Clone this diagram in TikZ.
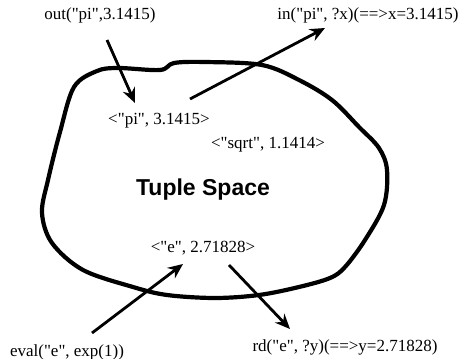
\documentclass[tikz,border=0pt]{standalone}
\usepackage{fontspec}
\setmainfont{Liberation Serif}
\newfontfamily\headfont{Liberation Sans}
\usetikzlibrary{arrows.meta,positioning}
\newcommand{\q}{\textquotedbl}
\tikzset{
  op/.style={font=\fontsize{17}{19}\selectfont,inner sep=0pt},
  tup/.style={op},
  space/.style={font=\headfont\bfseries\fontsize{23}{25}\selectfont,inner sep=0pt},
  blob/.style={line width=4.2pt,line join=round},
  fl/.style={line width=2.8pt,-{Stealth[length=15pt,width=13pt,inset=5pt]}},
}

\begin{document}
\begin{tikzpicture}[x=1pt,y=-1pt]
\useasboundingbox (0,0) rectangle (464,359);
% the tuple space
\draw[blob] plot[smooth cycle,tension=0.55] coordinates {
  (74,87) (97,71) (118,68) (160,70) (174,63) (205,62) (262,65) (299,80)
  (332,100) (359,127) (379,148) (387,170) (384,205) (365,240) (345,267)
  (330,278) (299,287) (259,295) (215,298) (167,295) (133,287) (83,270)
  (52,243) (42,213) (48,180) (60,132)};
\node[space] (ts) at (203,190) {Tuple Space};
% tuples
\node[tup] (pi) at (159,121) {<\q pi\q, 3.1415>};
\node[tup] (sqrt) at (268,145) {<\q sqrt\q, 1.1414>};
\node[tup] (e) at (203,248) {<\q e\q, 2.71828>};
% operations
\node[op] (out) at (100,15) {out(\q pi\q,3.1415)};
\node[op] (in) at (368,15) {in(\q pi\q, ?x)(==>x=3.1415)};
\node[op] (eval) at (67,352) {eval(\q e\q, exp(1))};
\node[op] (rd) at (345,347) {rd(\q e\q, ?y)(==>y=2.71828)};
\coordinate (outs) at (107,40);
\coordinate (outt) at (135,103);
\coordinate (ins) at (190,99);
\coordinate (int) at (325,28);
\coordinate (evals) at (92,333);
\coordinate (evalt) at (183,264);
\coordinate (rds) at (229,265);
\coordinate (rdt) at (290,329);
\draw[fl] (outs) -- (outt);
\draw[fl] (ins) -- (int);
\draw[fl] (evals) -- (evalt);
\draw[fl] (rds) -- (rdt);
\end{tikzpicture}
\end{document}
